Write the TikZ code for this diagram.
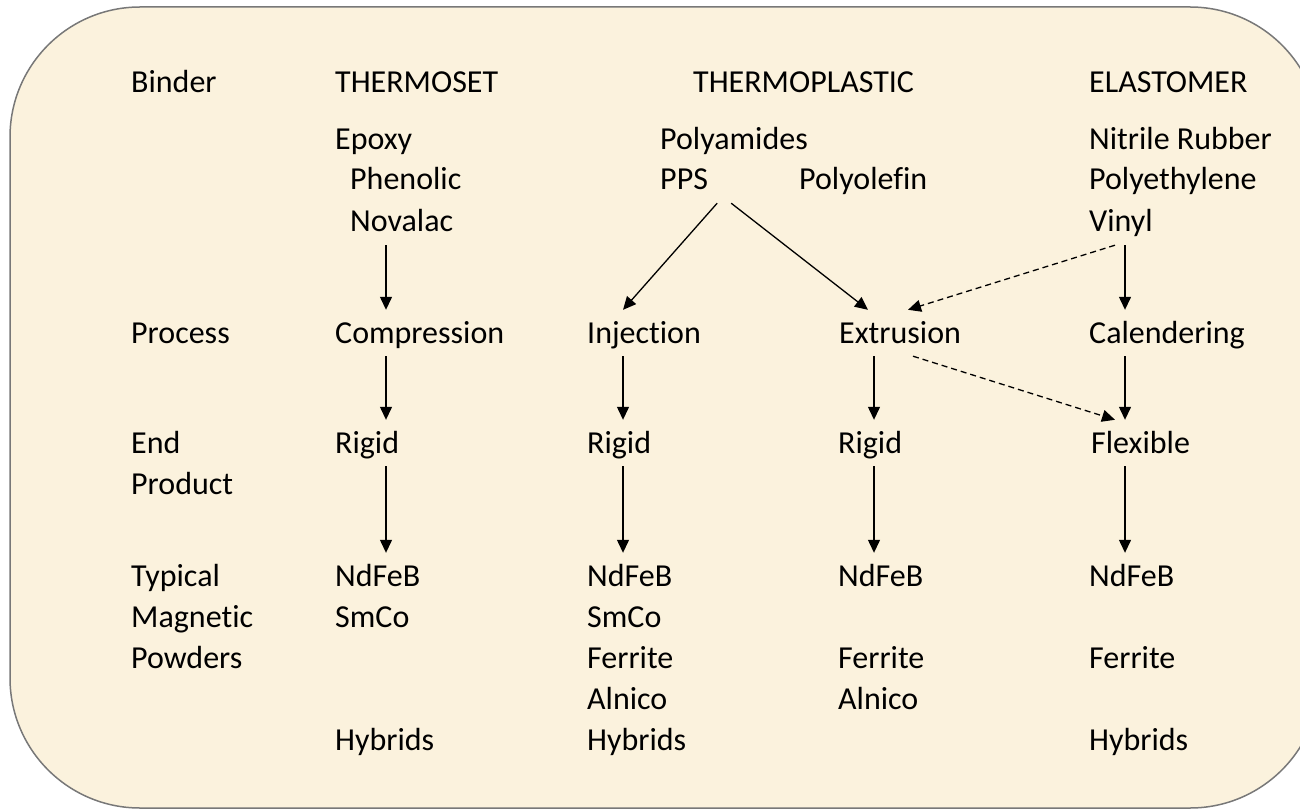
\documentclass[tikz,border=0pt]{standalone}
\usepackage{fontspec}
\setmainfont{Carlito}[Ligatures=NoCommon, RawFeature={-liga;-clig;-calt}]
\usetikzlibrary{arrows.meta,calc}
\definecolor{parch}{RGB}{251,242,221}
\definecolor{rim}{RGB}{120,120,120}
\begin{document}
\begin{tikzpicture}[x=1pt, y=-1pt,
  lbl/.style={anchor=base west, inner xsep=0pt, inner ysep=4pt, text height=29pt, text depth=9pt, font=\fontsize{32}{38}\selectfont},
  arr/.style={line width=1.3pt, -{Triangle[length=13pt,width=12pt]}},
  dsh/.style={arr, dash pattern=on 6pt off 4pt}]
\useasboundingbox (0,0) rectangle (1300,810);
\clip (0,0) rectangle (1300,810);
\filldraw[fill=parch, draw=rim, line width=1.5pt, rounded corners=130pt] (10,7) rectangle (1320,808);
% row headings
\node[lbl] (binder) at (131,93) {Binder};
\node[lbl] (process) at (131,343) {Process};
\node[lbl] (endp) at (131,453) {End}; \node[lbl] (product) at (131,494) {Product};
\node[lbl] (typical) at (131,586) {Typical}; \node[lbl] (magnetic) at (131,627) {Magnetic}; \node[lbl] (powders) at (131,668) {Powders};
% thermoset
\node[lbl] (thermoset) at (335,93) {THERMOSET};
\node[lbl] (epoxy) at (335,150) {Epoxy}; \node[lbl] (phenolic) at (350,190) {Phenolic}; \node[lbl] (novalac) at (350,232) {Novalac};
\node[lbl] (comp) at (335,343) {Compression};
\node[lbl] (rigidA) at (335,453) {Rigid};
\node[lbl] (ndA) at (335,586) {NdFeB}; \node[lbl] (smA) at (335,627) {SmCo}; \node[lbl] (hybA) at (335,750) {Hybrids};
% thermoplastic
\node[lbl] (thermoplastic) at (693,93) {THERMOPLASTIC};
\node[lbl] (polyamides) at (660,150) {Polyamides}; \node[lbl] (pps) at (660,190) {PPS}; \node[lbl] (polyolefin) at (799,190) {Polyolefin};
\node[lbl] (inj) at (587,343) {Injection};
\node[lbl] (rigidB) at (587,453) {Rigid};
\node[lbl] (ndB) at (587,586) {NdFeB}; \node[lbl] (smB) at (587,627) {SmCo}; \node[lbl] (ferB) at (587,668) {Ferrite};
\node[lbl] (alB) at (587,709) {Alnico}; \node[lbl] (hybB) at (587,750) {Hybrids};
\node[lbl] (extr) at (839,343) {Extrusion};
\node[lbl] (rigidC) at (838,453) {Rigid};
\node[lbl] (ndC) at (838,586) {NdFeB}; \node[lbl] (ferC) at (838,668) {Ferrite}; \node[lbl] (alC) at (838,709) {Alnico};
% elastomer
\node[lbl] (elastomer) at (1089,93) {ELASTOMER};
\node[lbl] (nitrile) at (1089,150) {Nitrile Rubber}; \node[lbl] (polyeth) at (1089,190) {Polyethylene}; \node[lbl] (vinyl) at (1089,232) {Vinyl};
\node[lbl] (cal) at (1089,343) {Calendering};
\node[lbl] (flex) at (1091,453) {Flexible};
\node[lbl] (ndD) at (1089,586) {NdFeB}; \node[lbl] (ferD) at (1089,668) {Ferrite}; \node[lbl] (hybD) at (1089,750) {Hybrids};
% arrow columns
\coordinate (c1) at (386,0); \coordinate (c2) at (623,0); \coordinate (c3) at (874,0); \coordinate (c4) at (1125,0);
\draw[arr] (novalac.south -| c1) -- (comp.north -| c1);
\draw[arr] (comp.south -| c1) -- (rigidA.north -| c1);
\draw[arr] (rigidA.south -| c1) -- (ndA.north -| c1);
\draw[arr] ([xshift=9pt]pps.south east) -- (inj.north -| c2);
\draw[arr] ([xshift=23pt]pps.south east) -- ([xshift=29pt]extr.north west);
\draw[arr] (inj.south -| c2) -- (rigidB.north -| c2);
\draw[arr] (rigidB.south -| c2) -- (ndB.north -| c2);
\draw[arr] (extr.south -| c3) -- (rigidC.north -| c3);
\draw[arr] (rigidC.south -| c3) -- (ndC.north -| c3);
\draw[arr] (vinyl.south -| c4) -- (cal.north -| c4);
\draw[arr] (cal.south -| c4) -- (flex.north -| c4);
\draw[arr] (flex.south -| c4) -- (ndD.north -| c4);
\draw[dsh] ($(vinyl.south -| c4)+(-10,0)$) -- ([xshift=69pt]extr.north west);
\draw[dsh] ([xshift=74pt]extr.south west) -- ($(flex.north -| c4)+(-10,0)$);
\end{tikzpicture}
\end{document}
